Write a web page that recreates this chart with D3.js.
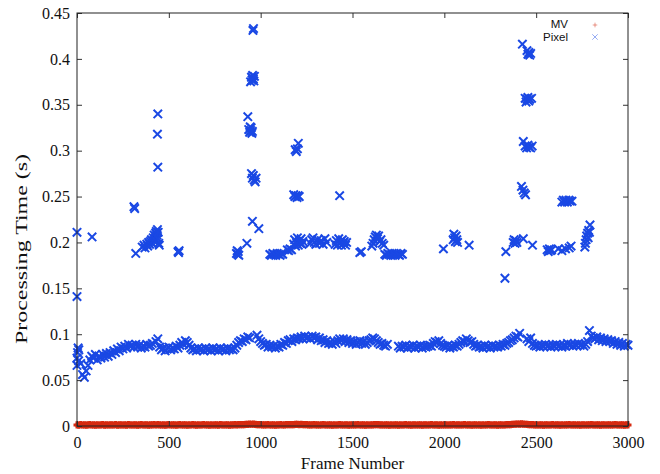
<!DOCTYPE html>
<html>
<head>
<meta charset="utf-8">
<script src="https://cdn.jsdelivr.net/npm/d3@7"></script>
<style>
  body { margin: 0; background: #fff; }
  svg text { fill: #111; }
</style>
</head>
<body>
<svg id="chart" width="660" height="474"></svg>
<script>
// tick labels
const xTicks = [0, 500, 1000, 1500, 2000, 2500, 3000];
const yTicks = [0, 0.05, 0.1, 0.15, 0.2, 0.25, 0.3, 0.35, 0.4, 0.45];

// MV processing time, one value every 10 frames (0..3000)
const mvTimes = [
  0.0012, 0.0010, 0.0014, 0.0011, 0.0013, 0.0010, 0.0012, 0.0015, 0.0011, 0.0012,
  0.0010, 0.0013, 0.0011, 0.0012, 0.0014, 0.0010, 0.0012, 0.0011, 0.0013, 0.0012,
  0.0011, 0.0014, 0.0010, 0.0012, 0.0013, 0.0011, 0.0012, 0.0010, 0.0014, 0.0012,
  0.0011, 0.0013, 0.0012, 0.0010, 0.0012, 0.0014, 0.0011, 0.0013, 0.0012, 0.0010,
  0.0013, 0.0012, 0.0015, 0.0011, 0.0016, 0.0012, 0.0011, 0.0013, 0.0010, 0.0012,
  0.0014, 0.0011, 0.0012, 0.0013, 0.0010, 0.0012, 0.0014, 0.0011, 0.0013, 0.0012,
  0.0010, 0.0012, 0.0011, 0.0014, 0.0012, 0.0010, 0.0013, 0.0011, 0.0012, 0.0014,
  0.0011, 0.0013, 0.0010, 0.0012, 0.0011, 0.0013, 0.0012, 0.0010, 0.0014, 0.0012,
  0.0011, 0.0013, 0.0012, 0.0010, 0.0013, 0.0012, 0.0014, 0.0013, 0.0015, 0.0014,
  0.0016, 0.0015, 0.0017, 0.0018, 0.0020, 0.0019, 0.0021, 0.0018, 0.0016, 0.0015,
  0.0014, 0.0013, 0.0013, 0.0012, 0.0014, 0.0011, 0.0013, 0.0012, 0.0010, 0.0013,
  0.0012, 0.0014, 0.0011, 0.0013, 0.0015, 0.0014, 0.0015, 0.0014, 0.0016, 0.0017,
  0.0018, 0.0016, 0.0017, 0.0015, 0.0016, 0.0014, 0.0013, 0.0013, 0.0012, 0.0014,
  0.0012, 0.0013, 0.0011, 0.0012, 0.0014, 0.0012, 0.0011, 0.0013, 0.0012, 0.0010,
  0.0013, 0.0011, 0.0012, 0.0014, 0.0012, 0.0011, 0.0013, 0.0012, 0.0010, 0.0012,
  0.0011, 0.0013, 0.0012, 0.0014, 0.0011, 0.0012, 0.0013, 0.0010, 0.0012, 0.0011,
  0.0013, 0.0012, 0.0014, 0.0015, 0.0014, 0.0013, 0.0012, 0.0011, 0.0013, 0.0012,
  0.0010, 0.0012, 0.0011, 0.0013, 0.0012, 0.0010, 0.0013, 0.0011, 0.0012, 0.0014,
  0.0011, 0.0012, 0.0010, 0.0013, 0.0012, 0.0011, 0.0013, 0.0012, 0.0010, 0.0012,
  0.0013, 0.0011, 0.0012, 0.0014, 0.0011, 0.0012, 0.0013, 0.0010, 0.0012, 0.0011,
  0.0013, 0.0012, 0.0011, 0.0013, 0.0012, 0.0014, 0.0011, 0.0012, 0.0013, 0.0011,
  0.0012, 0.0014, 0.0011, 0.0013, 0.0012, 0.0010, 0.0012, 0.0013, 0.0011, 0.0012,
  0.0010, 0.0013, 0.0011, 0.0012, 0.0014, 0.0012, 0.0011, 0.0013, 0.0012, 0.0010,
  0.0012, 0.0013, 0.0011, 0.0012, 0.0014, 0.0015, 0.0016, 0.0017, 0.0019, 0.0020,
  0.0022, 0.0021, 0.0023, 0.0021, 0.0019, 0.0017, 0.0016, 0.0015, 0.0014, 0.0013,
  0.0012, 0.0011, 0.0013, 0.0012, 0.0010, 0.0012, 0.0013, 0.0011, 0.0012, 0.0014,
  0.0011, 0.0012, 0.0013, 0.0010, 0.0012, 0.0011, 0.0013, 0.0012, 0.0014, 0.0011,
  0.0012, 0.0013, 0.0011, 0.0012, 0.0010, 0.0013, 0.0012, 0.0011, 0.0013, 0.0012,
  0.0014, 0.0012, 0.0011, 0.0013, 0.0012, 0.0010, 0.0012, 0.0013, 0.0011, 0.0012,
  0.0013, 0.0011, 0.0012, 0.0014, 0.0012, 0.0011, 0.0013, 0.0012, 0.0010, 0.0012,
  0.0012
];

// Pixel processing time, main band, one value every 10 frames (null = no point)
const pixelBand = [
  0.074, 0.083, 0.068, 0.056, 0.053, 0.060, 0.066, 0.072, 0.076, 0.074,
  0.078, 0.072, 0.076, 0.074, 0.078, 0.075, 0.079, 0.076, 0.080, 0.078,
  0.082, 0.080, 0.084, 0.082, 0.086, 0.084, 0.087, 0.085, 0.089, 0.087,
  0.088, 0.086, 0.089, 0.086, 0.088, 0.085, 0.087, 0.086, 0.089, 0.087,
  0.088, 0.090, null, 0.092, 0.095, 0.086, 0.083, 0.085, 0.082, 0.084,
  0.086, 0.083, 0.085, 0.084, 0.087, 0.085, 0.088, 0.091, 0.089, 0.093,
  0.091, 0.088, 0.085, 0.083, 0.084, 0.082, 0.085, 0.083, 0.084, 0.082,
  0.085, 0.083, 0.084, 0.082, 0.085, 0.083, 0.084, 0.082, 0.085, 0.083,
  0.084, 0.082, 0.085, 0.083, 0.084, 0.083, 0.085, 0.088, 0.091, 0.093,
  0.092, 0.095, 0.094, 0.097, 0.096, null, null, null, 0.099, 0.095,
  0.092, 0.090, 0.088, 0.089, 0.086, 0.088, 0.086, 0.087, 0.085, 0.087,
  0.086, 0.089, 0.088, 0.091, 0.090, 0.093, 0.094, 0.092, 0.095, 0.094,
  0.096, 0.095, 0.097, 0.095, 0.098, 0.096, 0.097, 0.095, 0.098, 0.096,
  0.097, 0.094, 0.096, 0.093, 0.094, 0.091, 0.093, 0.090, 0.091, 0.089,
  0.092, 0.090, 0.093, 0.095, 0.093, 0.095, 0.092, 0.094, 0.091, 0.093,
  0.090, 0.092, 0.089, 0.091, 0.093, 0.090, 0.092, 0.089, 0.091, 0.093,
  0.094, 0.096, 0.095, 0.093, 0.091, 0.089, 0.090, 0.088, 0.087, 0.089,
  null, null, null, null, null, 0.087, 0.085, 0.087, 0.086, 0.088,
  0.085, 0.087, 0.086, 0.088, 0.085, 0.087, 0.086, 0.088, 0.085, 0.087,
  0.086, 0.087, 0.088, 0.087, 0.090, 0.092, 0.091, 0.093, 0.090, 0.088,
  0.087, 0.086, 0.088, 0.085, 0.087, 0.086, 0.088, 0.087, 0.089, 0.091,
  0.093, 0.092, 0.095, 0.093, 0.091, 0.092, 0.089, 0.087, 0.088, 0.086,
  0.087, 0.085, 0.088, 0.086, 0.087, 0.085, 0.088, 0.086, 0.087, 0.086,
  0.088, 0.087, 0.089, 0.088, 0.090, 0.091, 0.093, 0.094, 0.096, 0.098,
  0.097, 0.101, null, null, null, 0.095, 0.092, 0.096, 0.090, 0.088,
  0.087, 0.088, 0.086, 0.088, 0.087, 0.089, 0.087, 0.088, 0.086, 0.088,
  0.087, 0.089, 0.087, 0.088, 0.086, 0.088, 0.087, 0.090, 0.088, 0.089,
  0.087, 0.089, 0.088, 0.090, 0.088, 0.089, 0.087, 0.089, 0.092, 0.104,
  0.098, 0.096, 0.095, 0.097, 0.094, 0.096, 0.093, 0.095, 0.092, 0.094,
  0.092, 0.093, 0.090, 0.092, 0.089, 0.091, 0.088, 0.090, 0.087, 0.089,
  0.088
];

// Pixel processing time, scattered points above the band: [frame, seconds]
const pixelSpikes = [
  [0,0.211],[0,0.141],[0,0.066],[3,0.080],[6,0.085],[9,0.071],[82,0.206],
  [310,0.239],[314,0.237],[320,0.188],
  [355,0.195],[365,0.197],[370,0.194],[380,0.198],[385,0.196],[390,0.200],[395,0.198],
  [400,0.201],[405,0.203],[410,0.199],[415,0.205],[418,0.202],[420,0.208],[425,0.204],
  [428,0.210],[430,0.206],[432,0.212],[435,0.208],[438,0.214],[440,0.204],[442,0.211],
  [445,0.199],[448,0.197],
  [440,0.340],[438,0.318],[440,0.282],
  [550,0.190],[553,0.189],[556,0.191],
  [868,0.188],[872,0.191],[875,0.187],[878,0.190],[881,0.186],
  [925,0.199],[930,0.337],[935,0.323],[940,0.320],[943,0.326],[945,0.322],[948,0.325],
  [952,0.319],[955,0.321],
  [945,0.375],[950,0.380],[953,0.377],[956,0.382],[960,0.378],[963,0.376],[966,0.381],
  [958,0.431],[961,0.433],
  [950,0.275],[955,0.270],[960,0.273],[965,0.268],[970,0.266],[975,0.270],
  [955,0.223],[990,0.215],
  [1050,0.187],[1058,0.186],[1066,0.188],[1074,0.187],[1082,0.186],[1090,0.188],
  [1098,0.187],[1106,0.186],[1114,0.188],[1120,0.187],
  [1145,0.192],[1152,0.191],[1160,0.193],[1168,0.192],
  [1180,0.198],[1185,0.203],[1190,0.196],[1195,0.200],[1200,0.205],[1205,0.197],
  [1210,0.202],[1215,0.199],[1220,0.204],[1225,0.198],[1230,0.201],
  [1180,0.252],[1186,0.250],[1192,0.251],[1198,0.249],[1204,0.251],[1210,0.250],
  [1188,0.301],[1194,0.299],[1200,0.302],[1205,0.308],
  [1270,0.199],[1278,0.203],[1285,0.205],[1292,0.200],[1300,0.198],[1310,0.203],
  [1320,0.199],[1330,0.202],[1340,0.198],[1350,0.204],[1360,0.200],
  [1430,0.251],
  [1405,0.198],[1412,0.202],[1418,0.197],[1425,0.204],[1430,0.199],[1435,0.201],
  [1440,0.197],[1445,0.203],[1450,0.199],[1455,0.201],[1462,0.197],[1468,0.200],
  [1540,0.189],[1548,0.190],
  [1605,0.196],[1612,0.199],[1618,0.203],[1624,0.206],[1630,0.208],[1636,0.204],
  [1642,0.207],[1648,0.201],[1655,0.203],[1662,0.199],[1670,0.197],
  [1676,0.187],[1684,0.186],[1692,0.188],[1700,0.187],[1708,0.186],[1716,0.188],
  [1724,0.187],[1732,0.186],[1740,0.188],[1748,0.187],[1756,0.186],[1764,0.188],[1772,0.187],
  [1995,0.193],
  [2048,0.203],[2052,0.209],[2056,0.205],[2060,0.201],[2064,0.207],[2068,0.203],[2072,0.200],
  [2135,0.197],[2330,0.161],[2335,0.190],
  [2375,0.200],[2380,0.203],[2385,0.199],[2390,0.202],[2395,0.200],[2430,0.204],[2480,0.197],
  [2425,0.416],[2450,0.409],[2455,0.405],[2460,0.407],[2465,0.404],[2470,0.406],
  [2440,0.357],[2445,0.353],[2450,0.356],[2455,0.358],[2460,0.354],[2465,0.356],[2475,0.357],
  [2430,0.310],[2440,0.305],[2448,0.303],[2455,0.306],[2462,0.304],[2470,0.303],[2478,0.305],
  [2420,0.261],[2428,0.257],[2435,0.254],[2442,0.252],
  [2560,0.192],[2566,0.190],[2572,0.193],[2578,0.191],[2584,0.192],
  [2620,0.193],[2640,0.191],[2660,0.193],[2680,0.194],[2690,0.196],
  [2640,0.244],[2648,0.246],[2655,0.244],[2662,0.246],[2670,0.244],[2678,0.246],
  [2686,0.245],[2695,0.245],
  [2765,0.195],[2768,0.199],[2772,0.203],[2775,0.207],[2780,0.210],[2783,0.205],
  [2786,0.213],[2790,0.211],[2793,0.219]
];

const frameStep = 10;
const width = 660, height = 474;
const margin = { top: 13, right: 32, bottom: 48, left: 77 };
const red = "#d62a10", blue = "#1a48e4";

const svg = d3.select("#chart");

const x = d3.scaleLinear().domain([0, 3000]).range([margin.left, width - margin.right]);
const y = d3.scaleLinear().domain([0, 0.45]).range([height - margin.bottom, margin.top]);

const crossPath = "M-4.2,-4.2L4.2,4.2M-4.2,4.2L4.2,-4.2";
const plusPath = "M-3.5,0H3.5M0,-3.6V3.6";

const mvPts = mvTimes.map((v, i) => [i * frameStep, v]);
const bandPts = pixelBand.map((v, i) => [i * frameStep, v]).filter(d => d[1] != null);
const pixelPts = bandPts.concat(pixelSpikes);

// MV series
svg.append("g").selectAll("path")
  .data(mvPts)
  .join("path")
  .attr("d", plusPath)
  .attr("transform", d => `translate(${x(d[0])},${y(d[1])})`)
  .attr("stroke", red)
  .attr("stroke-width", 3)
  .attr("fill", "none");

// Pixel series
svg.append("g").selectAll("path")
  .data(pixelPts)
  .join("path")
  .attr("d", crossPath)
  .attr("transform", d => `translate(${x(d[0])},${y(d[1])})`)
  .attr("stroke", blue)
  .attr("stroke-width", 2)
  .attr("fill", "none");

// axes, ticks point inwards and are mirrored on top / right
const fmtY = d => String(+d.toFixed(2));
const axisFont = "'Liberation Serif', 'Times New Roman', serif";

const gx = svg.append("g")
  .attr("transform", `translate(0,${y(0)})`)
  .call(d3.axisBottom(x).tickValues(xTicks).tickSize(-5).tickPadding(11).tickFormat(d3.format("d")));
const gy = svg.append("g")
  .attr("transform", `translate(${x(0)},0)`)
  .call(d3.axisLeft(y).tickValues(yTicks).tickSize(-5).tickPadding(7).tickFormat(fmtY));
const gxTop = svg.append("g")
  .attr("transform", `translate(0,${y(0.45)})`)
  .call(d3.axisTop(x).tickValues(xTicks).tickSize(-5).tickFormat(""));
const gyRight = svg.append("g")
  .attr("transform", `translate(${x(3000)},0)`)
  .call(d3.axisRight(y).tickValues(yTicks).tickSize(-5).tickFormat(""));

[gx, gy, gxTop, gyRight].forEach(g => {
  g.select(".domain").remove();
  g.selectAll(".tick line").attr("stroke", "#333");
  g.selectAll("text").attr("font-family", axisFont).attr("font-size", 16).attr("fill", "#111");
});

svg.append("rect")
  .attr("x", x(0)).attr("y", y(0.45))
  .attr("width", x(3000) - x(0)).attr("height", y(0) - y(0.45))
  .attr("fill", "none").attr("stroke", "#222").attr("stroke-width", 1);

// axis titles
svg.append("text")
  .attr("x", (x(0) + x(3000)) / 2).attr("y", 469)
  .attr("text-anchor", "middle")
  .attr("font-family", axisFont).attr("font-size", 17)
  .text("Frame Number");

svg.append("text")
  .attr("transform", "translate(27,249) rotate(-90)")
  .attr("text-anchor", "middle")
  .attr("font-family", axisFont).attr("font-size", 17)
  .attr("textLength", 190).attr("lengthAdjust", "spacingAndGlyphs")
  .text("Processing Time (s)");

// legend
const legend = svg.append("g").attr("font-family", "'Liberation Sans', Arial, sans-serif").attr("font-size", 11.5);
const legendItems = [
  { name: "MV", path: plusPath, color: red, yy: 25, base: 27.5 },
  { name: "Pixel", path: crossPath, color: blue, yy: 37, base: 40.5 }
];
legendItems.forEach(it => {
  legend.append("text")
    .attr("x", 568).attr("y", it.base)
    .attr("text-anchor", "end")
    .text(it.name);
  legend.append("path")
    .attr("d", it.path)
    .attr("transform", `translate(595,${it.yy}) scale(0.65)`)
    .attr("stroke", it.color).attr("stroke-opacity", 0.7)
    .attr("stroke-width", 1).attr("fill", "none");
});
</script>
</body>
</html>
